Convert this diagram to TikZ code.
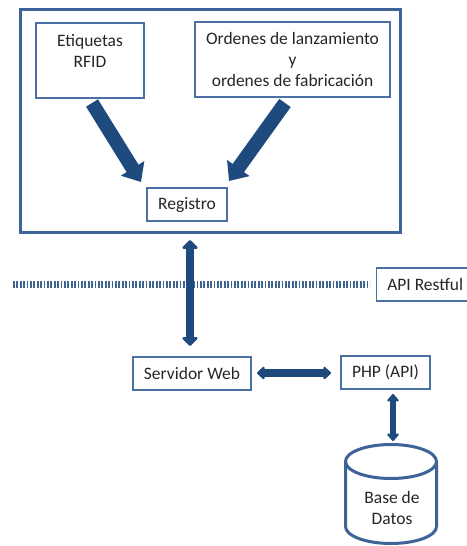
\documentclass[tikz,border=0pt]{standalone}
\usepackage{fontspec}
\setmainfont{Carlito}
\usetikzlibrary{arrows.meta,calc}
\definecolor{boxblue}{HTML}{4A70A6}
\definecolor{outerblue}{HTML}{3D6399}
\definecolor{arrowblue}{HTML}{1F4A7E}
\definecolor{txt}{HTML}{262626}
\tikzset{
  box/.style={draw=boxblue, line width=1.1pt, fill=white, inner sep=0pt, text=txt},
  lbl/.style={text=txt, align=center, inner sep=0pt},
  bigarrow/.style={draw=arrowblue, line width=10.5pt, -{Triangle[length=12pt,width=20pt]}},
  vdarrow/.style={draw=arrowblue, line width=6.5pt, {Triangle[length=7pt,width=13.5pt,round]}-{Triangle[length=7pt,width=13.5pt,round]}},
  hdarrow/.style={draw=arrowblue, line width=5.5pt, {Triangle[length=6pt,width=11pt,round]}-{Triangle[length=6pt,width=11pt,round]}},
  sdarrow/.style={draw=arrowblue, line width=4.5pt, {Triangle[length=6pt,width=10pt,round]}-{Triangle[length=6pt,width=10pt,round]}},
}
\begin{document}
\begin{tikzpicture}[x=0.75pt,y=-0.75pt, every node/.style={font=\fontsize{13.1}{15.75}\selectfont}]
\useasboundingbox (0,0) rectangle (467,546);
\clip (0,0) rectangle (467,546);
\fill[white] (0,0) rectangle (467,546);

% outer frame
\node[draw=outerblue, line width=2.25pt, minimum width=285pt, minimum height=167.25pt, inner sep=0pt] (outer) at (210.5,121) {};

% inner boxes
\node[box, minimum width=81pt, minimum height=56.25pt] (etq) at (90,60.5) {};
\node[lbl] (etqt) at (90,51) {Etiquetas\\RFID};
\node[box, minimum width=146.25pt, minimum height=56.25pt, align=center] (ord) at (292.5,59.5) {Ordenes de lanzamiento\\y\\ordenes de fabricación};
\node[box, minimum width=60pt, minimum height=24.75pt] (reg) at (187,204.5) {Registro};

\node[box, minimum width=88.5pt, minimum height=24.75pt] (srv) at (192,373.5) {Servidor Web};
\node[box, minimum width=66.75pt, minimum height=24.75pt] (php) at (385.5,372.5) {PHP (API)};
\node[box, minimum width=78pt, minimum height=24.75pt, anchor=west] (api) at (376,284.5) {};
\node[lbl, anchor=west] (apit) at (387,284.5) {API Restful};

% database cylinder
\draw[draw=outerblue, line width=2.25pt, fill=white]
  (436.5,461.5) -- (436.5,526.5) arc[start angle=0, end angle=180, x radius=45.5, y radius=17] -- (345.5,461.5);
\draw[draw=outerblue, line width=2.25pt] (391,461.5) ellipse [x radius=45.5, y radius=17];
\node[lbl] (db) at (392,507.5) {Base de\\Datos};

% coordinates for arrow ends
\coordinate (a1s) at (92,103);
\coordinate (a1e) at (141,182);
\coordinate (a2s) at (285,103);
\coordinate (a2e) at (229,181);
\coordinate (v1s) at (190,240);
\coordinate (v1e) at (190,346);
\coordinate (h1s) at (257,373);
\coordinate (h1e) at (331,373);
\coordinate (p1s) at (393,394);
\coordinate (p1e) at (393,441);
\coordinate (dl) at (13,284);

% dotted API line
\draw[draw=arrowblue!85!white, line width=5.25pt, dash pattern=on 1.3pt off 1.25pt] (dl) -- ([xshift=-4.5pt]api.west |- dl);

% arrows
\draw[bigarrow] (a1s) -- (a1e);
\draw[bigarrow] (a2s) -- (a2e);
\draw[vdarrow] (v1s) -- (v1e);
\draw[hdarrow] (h1s) -- (h1e);
\draw[sdarrow] (p1s) -- (p1e);
\end{tikzpicture}
\end{document}
